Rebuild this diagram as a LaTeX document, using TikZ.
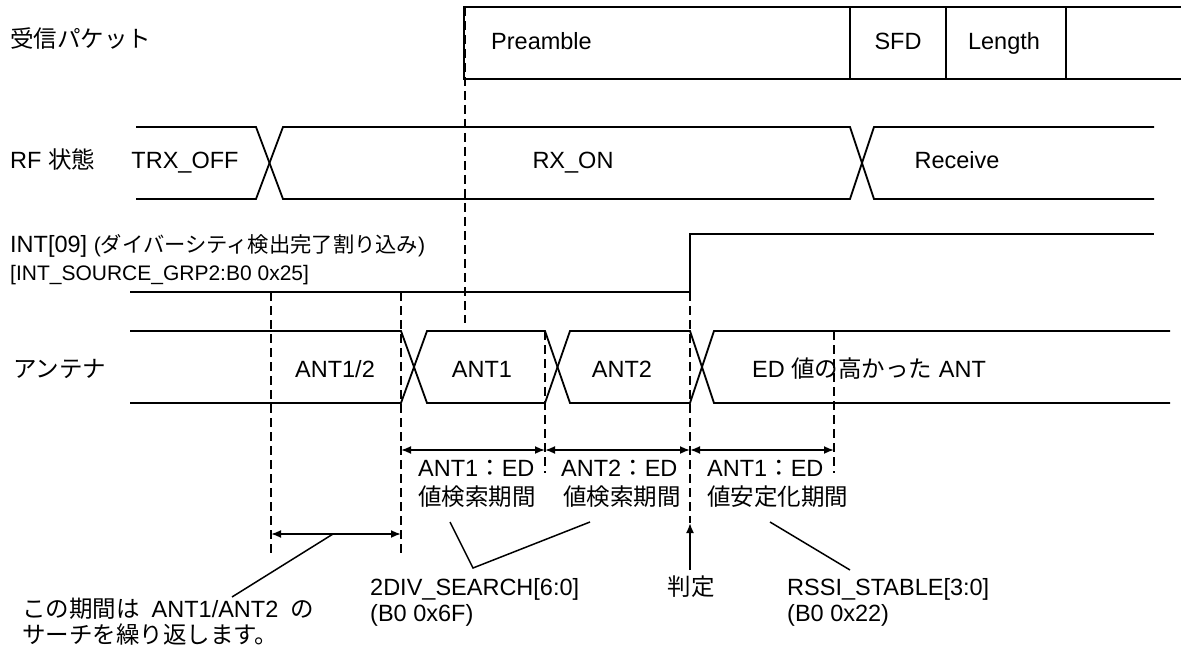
\documentclass[tikz,border=0pt]{standalone}
\usepackage{fontspec}
\setmainfont{Liberation Sans}
\newfontfamily\jp{Noto Sans CJK JP}
\usetikzlibrary{arrows.meta}

\tikzset{
  wave/.style={line width=1.8pt, line join=miter},
  guide/.style={line width=1.5pt, dash pattern=on 9pt off 5pt},
  dimline/.style={line width=1.8pt, {Latex[length=10pt,width=8pt]}-{Latex[length=10pt,width=8pt]}},
  uparrow/.style={line width=1.8pt, -{Latex[length=10pt,width=8pt]}},
  leader/.style={line width=1.5pt},
  lbl/.style={inner sep=0pt, anchor=base west, font=\fontsize{23.5}{28}\selectfont},
  lblc/.style={inner sep=0pt, anchor=base, font=\fontsize{23.5}{28}\selectfont},
  lblsmall/.style={inner sep=0pt, anchor=base west, font=\fontsize{21}{26}\selectfont},
}

\begin{document}
\begin{tikzpicture}[x=1pt, y=-1pt]
  \useasboundingbox[fill=white] (0,0) rectangle (1181,655);

  % key time points
  \coordinate (pktTop) at (465,7);
  \coordinate (pktGuideEnd) at (465,323);
  \coordinate (g1Top) at (271,292);  \coordinate (g1Bot) at (271,555);
  \coordinate (g2Top) at (401,292);  \coordinate (g2Bot) at (401,555);
  \coordinate (g3Top) at (545,331);  \coordinate (g3Bot) at (545,473);
  \coordinate (g4Top) at (690,292);  \coordinate (g4Bot) at (690,523);
  \coordinate (g5Top) at (834,331);  \coordinate (g5Bot) at (834,473);

  % ---------- received packet ----------
  \draw[wave] (1181,7) -- (464,7) -- (464,79) -- (1181,79);
  \draw[wave] (850,7) -- (850,79);
  \draw[wave] (946,7) -- (946,79);
  \draw[wave] (1066,7) -- (1066,79);
  \node[lbl]  (pktlbl) at (10,48) {\jp 受信パケット};
  \node[lbl]  (pre)    at (491,50) {Preamble};
  \node[lblc] (sfd)    at (898,50) {SFD};
  \node[lblc] (len)    at (1004,50) {Length};

  % ---------- RF state ----------
  \draw[wave] (136,127) -- (256,127) -- (283,199) -- (850,199) -- (874,127) -- (1154,127);
  \draw[wave] (136,199) -- (256,199) -- (283,127) -- (850,127) -- (874,199) -- (1154,199);
  \node[lbl]  (rflbl)  at (10,169) {RF {\jp 状態}};
  \node[lblc] (trxoff) at (185,169) {TRX\_OFF};
  \node[lblc] (rxon)   at (573,169) {RX\_ON};
  \node[lblc] (recv)   at (957,169) {Receive};

  % ---------- INT[09] ----------
  \draw[wave] (130,292) -- (690,292) -- (690,234) -- (1154,234);
  \node[lbl] (intlbl) at (10,253)
    {INT[09] {\fontsize{21.3}{26}\selectfont ({\jp ダイバーシティ検出完了割り込み})}};
  \node[lblsmall] (intsrc) at (10,280) {[INT\_SOURCE\_GRP2:B0 0x25]};

  % ---------- antenna ----------
  \draw[wave] (130,331) -- (401,331) -- (427,403) -- (545,403) -- (570,331)
              -- (690,331) -- (714,403) -- (1170,403);
  \draw[wave] (130,403) -- (401,403) -- (427,331) -- (545,331) -- (570,403)
              -- (690,403) -- (714,331) -- (1170,331);
  \node[lbl]  (antlbl) at (13,377) {\jp アンテナ};
  \node[lblc] (ant12)  at (335,377) {ANT1/2};
  \node[lblc] (ant1)   at (482,377) {ANT1};
  \node[lblc] (ant2)   at (622,377) {ANT2};
  \node[lbl]  (antbest) at (752,377) {ED {\jp 値の高かった} ANT};

  % ---------- dashed guides ----------
  \draw[guide] (pktTop) -- (pktGuideEnd);
  \draw[guide] (g1Top) -- (g1Bot);
  \draw[guide] (g2Top) -- (g2Bot);
  \draw[guide] (g3Top) -- (g3Bot);
  \draw[guide] (g4Top) -- (g4Bot);
  \draw[guide] (g5Top) -- (g5Bot);

  % ---------- periods ----------
  \coordinate (p1a) at (401,450); \coordinate (p1b) at (545,450);
  \coordinate (p2a) at (545,450); \coordinate (p2b) at (690,450);
  \coordinate (p3a) at (690,450); \coordinate (p3b) at (834,450);
  \coordinate (p0a) at (271,534); \coordinate (p0b) at (401,534);
  \draw[dimline] (p1a) -- (p1b);
  \draw[dimline] (p2a) -- (p2b);
  \draw[dimline] (p3a) -- (p3b);
  \draw[dimline] (p0a) -- (p0b);

  \node[lbl] (s1a) at (418,476) {ANT1{\jp ：}ED};
  \node[lbl] (s1b) at (418,505) {\jp 値検索期間};
  \node[lbl] (s2a) at (561,476) {ANT2{\jp ：}ED};
  \node[lbl] (s2b) at (563,505) {\jp 値検索期間};
  \node[lbl] (s3a) at (707,476) {ANT1{\jp ：}ED};
  \node[lbl] (s3b) at (707,505) {\jp 値安定化期間};

  % decision point
  \coordinate (judgeFoot) at (690,570);
  \draw[uparrow] (judgeFoot) -- (g4Bot);
  \node[lblc] (judge) at (691,595) {\jp 判定};

  % register call-outs
  \coordinate (v1) at (450,522);
  \coordinate (v2) at (473,568);
  \coordinate (v3) at (590,522);
  \draw[leader] (v1) -- (v2) -- (v3);
  \node[lbl] (divreg)  at (370,595) {2DIV\_SEARCH[6:0]};
  \node[lbl] (divaddr) at (370,621) {(B0 0x6F)};

  \coordinate (r1) at (770,522);
  \coordinate (r2) at (850,570);
  \draw[leader] (r1) -- (r2);
  \node[lbl] (rssireg)  at (787,595) {RSSI\_STABLE[3:0]};
  \node[lbl] (rssiaddr) at (787,621) {(B0 0x22)};

  \coordinate (c1) at (333,534);
  \coordinate (c2) at (232,597);
  \draw[leader] (c1) -- (c2);
  \node[lbl] (note1) at (22,617) {{\jp この期間は}\hspace{12pt}ANT1/ANT2\hspace{12pt}{\jp の}};
  \node[lbl] (note2) at (22,643) {\jp サーチを繰り返します。};
\end{tikzpicture}
\end{document}
